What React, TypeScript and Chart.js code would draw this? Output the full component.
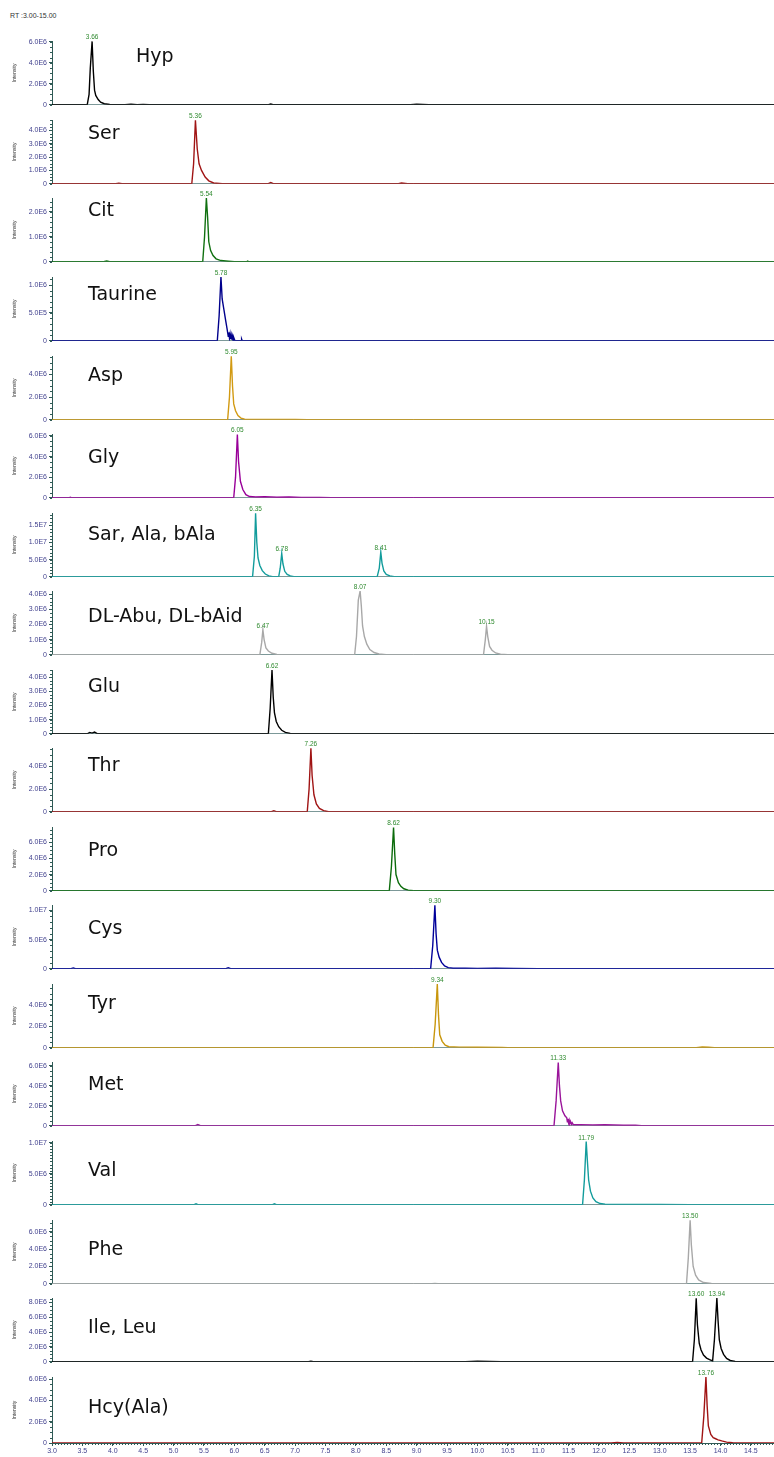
import React, { useEffect, useRef } from "react";
import { Chart, registerables } from "chart.js";

Chart.register(...registerables);

// ---------------- DATA ----------------
const rtRangeLabel = "RT :3.00-15.00";
const xMin = 3.0;
const xMax = 14.88;
const xTickValues = [3.0, 3.5, 4.0, 4.5, 5.0, 5.5, 6.0, 6.5, 7.0, 7.5, 8.0, 8.5, 9.0, 9.5, 10.0, 10.5, 11.0, 11.5, 12.0, 12.5, 13.0, 13.5, 14.0, 14.5];

const panelNames = ["Hyp", "Ser", "Cit", "Taurine", "Asp", "Gly", "Sar, Ala, bAla", "DL-Abu, DL-bAid", "Glu", "Thr", "Pro", "Cys", "Tyr", "Met", "Val", "Phe", "Ile, Leu", "Hcy(Ala)"];

const panelPeaks: number[][] = [[3.66], [5.36], [5.54], [5.78], [5.95], [6.05], [6.35, 6.78, 8.41], [6.47, 8.07, 10.15], [6.62], [7.26], [8.62], [9.30], [9.34], [11.33], [11.79], [13.50], [13.60, 13.94], [13.76]];

const panelYMax = [6.09e6, 4.77e6, 2.55e6, 1.144e6, 5.62e6, 6.19e6, 1.86e7, 4.2e6, 4.5e6, 5.62e6, 7.86e6, 1.095e7, 5.91e6, 6.4e6, 1.03e7, 7.37e6, 8.6e6, 6.2e6];

const panelYTicks: number[][] = [
  [0, 2e6, 4e6, 6e6],
  [0, 1e6, 2e6, 3e6, 4e6],
  [0, 1e6, 2e6],
  [0, 5e5, 1e6],
  [0, 2e6, 4e6],
  [0, 2e6, 4e6, 6e6],
  [0, 5e6, 1e7, 1.5e7],
  [0, 1e6, 2e6, 3e6, 4e6],
  [0, 1e6, 2e6, 3e6, 4e6],
  [0, 2e6, 4e6],
  [0, 2e6, 4e6, 6e6],
  [0, 5e6, 1e7],
  [0, 2e6, 4e6],
  [0, 2e6, 4e6, 6e6],
  [0, 5e6, 1e7],
  [0, 2e6, 4e6, 6e6],
  [0, 2e6, 4e6, 6e6, 8e6],
  [0, 2e6, 4e6, 6e6],
];

type P = [number, number];

const hypTrace: P[] = [[3.0, 0], [3.58, 0.01e6], [3.61, 1.0e6], [3.63, 3.5e6], [3.66, 6.05e6], [3.68, 3.2e6], [3.70, 1.4e6], [3.72, 0.9e6], [3.76, 0.5e6], [3.80, 0.25e6], [3.86, 0.1e6], [3.95, 0.03e6], [4.2, 0.02e6], [4.3, 0.05e6], [4.4, 0.01e6], [4.5, 0.04e6], [4.6, 0], [6.55, 0], [6.6, 0.08e6], [6.65, 0], [8.9, 0], [9.0, 0.06e6], [9.1, 0.03e6], [9.2, 0], [14.88, 0]];
const serTrace: P[] = [[3.0, 0], [4.05, 0], [4.1, 0.05e6], [4.15, 0], [5.30, 0], [5.33, 1.5e6], [5.36, 4.75e6], [5.39, 2.6e6], [5.42, 1.5e6], [5.46, 1.0e6], [5.52, 0.5e6], [5.58, 0.22e6], [5.66, 0.06e6], [5.8, 0], [6.55, 0], [6.6, 0.1e6], [6.65, 0], [8.7, 0], [8.75, 0.06e6], [8.85, 0], [14.88, 0]];
const citTrace: P[] = [[3.0, 0], [3.85, 0], [3.9, 0.03e6], [3.95, 0], [5.48, 0], [5.51, 1.0e6], [5.54, 2.55e6], [5.56, 1.8e6], [5.58, 0.8e6], [5.61, 0.45e6], [5.65, 0.25e6], [5.70, 0.12e6], [5.78, 0.05e6], [5.9, 0.02e6], [6.0, 0], [6.2, 0], [6.22, 0.03e6], [6.24, 0], [14.88, 0]];
const taurineTrace: P[] = [[3.0, 0], [5.72, 0], [5.75, 0.45e6], [5.78, 1.144e6], [5.80, 0.75e6], [5.83, 0.55e6], [5.86, 0.35e6], [5.88, 0.22e6], [5.90, 0.08e6], [5.91, 0.15e6], [5.92, 0.05e6], [5.93, 0.12e6], [5.94, 0.03e6], [5.95, 0.1e6], [5.96, 0.02e6], [5.97, 0.08e6], [5.98, 0], [5.99, 0.06e6], [6.01, 0], [6.11, 0], [6.12, 0.03e6], [6.13, 0], [14.88, 0]];
const aspTrace: P[] = [[3.0, 0], [5.89, 0], [5.92, 2.0e6], [5.95, 5.6e6], [5.97, 3.0e6], [5.99, 1.4e6], [6.02, 0.8e6], [6.06, 0.37e6], [6.11, 0.15e6], [6.17, 0.05e6], [6.3, 0.03e6], [6.5, 0.04e6], [6.7, 0.02e6], [7.0, 0.03e6], [7.2, 0], [14.88, 0]];
const glyTrace: P[] = [[3.0, 0], [3.28, 0], [3.3, 0.05e6], [3.33, 0], [5.99, 0], [6.02, 2.0e6], [6.05, 6.15e6], [6.07, 3.5e6], [6.10, 1.6e6], [6.14, 0.8e6], [6.19, 0.3e6], [6.25, 0.12e6], [6.35, 0.08e6], [6.5, 0.1e6], [6.7, 0.06e6], [6.9, 0.08e6], [7.1, 0.04e6], [7.4, 0.03e6], [7.6, 0], [14.88, 0]];
const sarTrace: P[] = [[3.0, 0], [6.30, 0], [6.33, 6.0e6], [6.35, 1.85e7], [6.37, 1.0e7], [6.39, 5.5e6], [6.42, 3.3e6], [6.46, 1.8e6], [6.51, 0.8e6], [6.57, 0.25e6], [6.63, 0.05e6], [6.73, 0], [6.755, 2.5e6], [6.78, 6.8e6], [6.80, 3.8e6], [6.83, 1.6e6], [6.87, 0.7e6], [6.92, 0.25e6], [6.98, 0.05e6], [7.05, 0], [8.35, 0], [8.385, 2.5e6], [8.41, 7.2e6], [8.43, 4.0e6], [8.46, 1.7e6], [8.50, 0.7e6], [8.56, 0.25e6], [8.63, 0.05e6], [8.7, 0], [14.88, 0]];
const abuTrace: P[] = [[3.0, 0], [6.42, 0], [6.45, 0.8e6], [6.47, 1.65e6], [6.49, 1.0e6], [6.52, 0.45e6], [6.56, 0.25e6], [6.62, 0.1e6], [6.7, 0.03e6], [6.8, 0], [7.98, 0], [8.01, 1.2e6], [8.04, 3.6e6], [8.07, 4.2e6], [8.09, 3.2e6], [8.11, 1.9e6], [8.14, 1.2e6], [8.18, 0.7e6], [8.23, 0.35e6], [8.30, 0.15e6], [8.38, 0.05e6], [8.5, 0], [10.10, 0], [10.13, 1.0e6], [10.15, 1.87e6], [10.17, 1.2e6], [10.20, 0.55e6], [10.24, 0.3e6], [10.30, 0.12e6], [10.38, 0.04e6], [10.5, 0], [14.88, 0]];
const gluTrace: P[] = [[3.0, 0], [3.58, 0], [3.62, 0.1e6], [3.66, 0.05e6], [3.70, 0.12e6], [3.75, 0], [6.56, 0], [6.59, 1.8e6], [6.62, 4.5e6], [6.64, 2.6e6], [6.66, 1.5e6], [6.69, 0.87e6], [6.73, 0.5e6], [6.78, 0.25e6], [6.84, 0.1e6], [6.92, 0.03e6], [7.0, 0], [14.88, 0]];
const thrTrace: P[] = [[3.0, 0], [6.6, 0], [6.65, 0.1e6], [6.7, 0], [7.20, 0], [7.23, 2.0e6], [7.26, 5.6e6], [7.28, 3.2e6], [7.31, 1.5e6], [7.35, 0.7e6], [7.40, 0.3e6], [7.47, 0.1e6], [7.55, 0], [14.88, 0]];
const proTrace: P[] = [[3.0, 0], [8.55, 0], [8.585, 3.0e6], [8.62, 7.8e6], [8.64, 4.5e6], [8.66, 2.0e6], [8.70, 1.0e6], [8.74, 0.55e6], [8.79, 0.25e6], [8.86, 0.08e6], [8.95, 0.02e6], [9.1, 0], [14.88, 0]];
const cysTrace: P[] = [[3.0, 0], [3.30, 0], [3.35, 0.15e6], [3.40, 0], [5.85, 0], [5.9, 0.2e6], [5.95, 0], [9.23, 0], [9.265, 4.0e6], [9.30, 1.09e7], [9.32, 6.0e6], [9.34, 3.2e6], [9.37, 2.0e6], [9.41, 1.1e6], [9.46, 0.5e6], [9.52, 0.2e6], [9.6, 0.1e6], [9.8, 0.12e6], [10.0, 0.08e6], [10.3, 0.1e6], [10.6, 0.05e6], [11.0, 0.03e6], [11.2, 0], [14.88, 0]];
const tyrTrace: P[] = [[3.0, 0], [9.27, 0], [9.305, 2.2e6], [9.34, 5.9e6], [9.36, 3.0e6], [9.38, 1.2e6], [9.42, 0.6e6], [9.47, 0.25e6], [9.53, 0.1e6], [9.7, 0.06e6], [10.0, 0.05e6], [10.4, 0.04e6], [10.5, 0], [13.6, 0], [13.7, 0.08e6], [13.8, 0.05e6], [13.9, 0], [14.88, 0]];
const metTrace: P[] = [[3.0, 0], [5.35, 0], [5.40, 0.12e6], [5.45, 0], [11.26, 0], [11.295, 2.5e6], [11.33, 6.35e6], [11.35, 4.0e6], [11.37, 2.5e6], [11.40, 1.5e6], [11.44, 1.0e6], [11.47, 0.8e6], [11.48, 0.4e6], [11.49, 0.7e6], [11.50, 0.3e6], [11.51, 0.55e6], [11.52, 0.2e6], [11.53, 0.45e6], [11.55, 0.15e6], [11.56, 0.3e6], [11.58, 0.1e6], [11.7, 0.12e6], [11.9, 0.08e6], [12.1, 0.1e6], [12.4, 0.06e6], [12.6, 0.05e6], [12.7, 0], [14.88, 0]];
const valTrace: P[] = [[3.0, 0], [5.33, 0], [5.37, 0.15e6], [5.41, 0], [6.62, 0], [6.66, 0.15e6], [6.70, 0], [11.73, 0], [11.76, 4.0e6], [11.79, 1.02e7], [11.81, 7.0e6], [11.83, 4.0e6], [11.86, 2.2e6], [11.90, 1.1e6], [11.95, 0.5e6], [12.02, 0.2e6], [12.1, 0.08e6], [12.5, 0.05e6], [13.0, 0.04e6], [13.5, 0.03e6], [14.0, 0.02e6], [14.4, 0], [14.88, 0]];
const pheTrace: P[] = [[3.0, 0], [9.25, 0], [9.3, 0.05e6], [9.35, 0], [13.44, 0], [13.47, 3.0e6], [13.50, 7.35e6], [13.52, 4.5e6], [13.55, 2.0e6], [13.59, 1.0e6], [13.64, 0.45e6], [13.72, 0.15e6], [13.85, 0.05e6], [14.0, 0.02e6], [14.2, 0], [14.88, 0]];
const ileTrace: P[] = [[3.0, 0], [7.22, 0], [7.26, 0.08e6], [7.3, 0], [9.8, 0], [10.0, 0.07e6], [10.2, 0.05e6], [10.4, 0], [13.54, 0], [13.57, 3.0e6], [13.60, 8.55e6], [13.62, 5.0e6], [13.65, 2.5e6], [13.68, 1.6e6], [13.72, 0.9e6], [13.77, 0.5e6], [13.82, 0.3e6], [13.87, 0.12e6], [13.90, 3.0e6], [13.94, 8.6e6], [13.96, 5.5e6], [13.98, 3.0e6], [14.01, 1.8e6], [14.05, 1.0e6], [14.10, 0.45e6], [14.16, 0.18e6], [14.24, 0.05e6], [14.35, 0], [14.88, 0]];
const hcyTrace: P[] = [[3.0, 0], [12.2, 0], [12.3, 0.04e6], [12.4, 0], [13.69, 0], [13.725, 2.5e6], [13.76, 6.2e6], [13.78, 3.5e6], [13.80, 1.6e6], [13.84, 0.8e6], [13.88, 0.5e6], [13.92, 0.4e6], [13.96, 0.3e6], [14.02, 0.2e6], [14.10, 0.08e6], [14.2, 0.02e6], [14.3, 0], [14.88, 0]];

const panelTraces: P[][] = [hypTrace, serTrace, citTrace, taurineTrace, aspTrace, glyTrace, sarTrace, abuTrace, gluTrace, thrTrace, proTrace, cysTrace, tyrTrace, metTrace, valTrace, pheTrace, ileTrace, hcyTrace];

// ---------------- STYLE / LAYOUT ----------------
const DARK_RED = "#a01414";
const panelColors = ["#000000", DARK_RED, "#107010", "#00008c", "#d29a12", "#990099", "#129c9c", "#a8a8a8", "#000000", DARK_RED, "#0b6b0b", "#00009a", "#c8960c", "#9a149a", "#129c9c", "#a8a8a8", "#000000", DARK_RED];
const panelMinorStep = [5e5, 2.5e5, 2e5, 1e5, 5e5, 5e5, 1e6, 2.5e5, 2.5e5, 5e5, 5e5, 1e6, 5e5, 5e5, 5e5, 5e5, 5e5, 5e5];
const labelX = [136, 88, 88, 88, 88, 88, 88, 88, 88, 88, 88, 88, 88, 88, 88, 88, 88, 88];
const labelDy = [48, 50, 51, 46, 44, 40, 42, 38, 47, 46, 40, 40, 44, 41, 34, 34, 34, 35];

const FIRST_BASELINE = 107.3;
const PANEL_PITCH = 78.55;
const AXIS_COLOR = "#2f5a55";
const XLINE_COLOR = "#7c9898";
const TICK_COLOR = "#3e3e8c";
const PEAK_COLOR = "#2f8a2f";
const SANS = 'Arial, "Liberation Sans", sans-serif';
const CHART_W = 774;
const TOP_PAD = 10;
const AXIS_H = 66;

function fmtY(v: number): string {
  if (v === 0) return "0";
  return v.toExponential(1).toUpperCase().replace("+", "");
}

function Panel({ index }: { index: number }) {
  const ref = useRef<HTMLCanvasElement | null>(null);
  const isLast = index === panelNames.length - 1;
  const xAxisH = isLast ? 14 : 4;
  const height = TOP_PAD + AXIS_H + xAxisH;
  const baseline = FIRST_BASELINE + PANEL_PITCH * index;
  const top = Math.round(baseline - TOP_PAD - AXIS_H);

  useEffect(() => {
    if (!ref.current) return;
    const trace = panelTraces[index];
    const ymax = panelYMax[index];
    const minor = panelMinorStep[index];

    const decor = {
      id: "decor" + index,
      afterDraw(chart: any) {
        const ctx = chart.ctx as CanvasRenderingContext2D;
        const xs = chart.scales.x;
        const ys = chart.scales.y;
        const ca = chart.chartArea;
        ctx.save();
        ctx.strokeStyle = AXIS_COLOR;
        ctx.lineWidth = 1;
        ctx.beginPath();
        const nMinor = Math.floor(ymax / minor + 1e-6);
        for (let k = 0; k <= nMinor; k++) {
          const y = Math.round(ys.getPixelForValue(k * minor)) + 0.5;
          ctx.moveTo(ca.left - 2, y);
          ctx.lineTo(ca.left, y);
        }
        ctx.stroke();
        if (isLast) {
          ctx.beginPath();
          const n = Math.floor((xMax - xMin) / 0.05 + 1e-6);
          for (let k = 0; k <= n; k++) {
            const x = Math.round(xs.getPixelForValue(xMin + k * 0.05)) + 0.5;
            ctx.moveTo(x, ca.bottom);
            ctx.lineTo(x, ca.bottom + 2);
          }
          ctx.stroke();
        }
        ctx.fillStyle = PEAK_COLOR;
        ctx.font = "6.5px " + SANS;
        ctx.textAlign = "center";
        ctx.textBaseline = "alphabetic";
        for (const rt of panelPeaks[index]) {
          const pt = trace.find((p) => Math.abs(p[0] - rt) < 1e-9);
          const yv = pt ? pt[1] : ymax;
          ctx.fillText(rt.toFixed(2), xs.getPixelForValue(rt), ys.getPixelForValue(yv) - 2);
        }
        ctx.fillStyle = "#111111";
        ctx.font = '19px "DejaVu Sans", Verdana, sans-serif';
        ctx.textAlign = "left";
        ctx.textBaseline = "middle";
        ctx.fillText(panelNames[index], labelX[index], ca.bottom - labelDy[index]);
        ctx.restore();
      },
    };

    const chart = new Chart(ref.current, {
      type: "line",
      data: {
        datasets: [
          {
            data: trace.map(([x, y]) => ({ x, y })),
            borderColor: panelColors[index],
            borderWidth: 1.4,
            pointRadius: 0,
            tension: 0,
            fill: false,
          },
        ],
      },
      options: {
        animation: false,
        responsive: false,
        events: [],
        layout: { padding: { top: TOP_PAD, left: 0, right: 0, bottom: 0 } },
        plugins: { legend: { display: false }, tooltip: { enabled: false } },
        scales: {
          x: {
            type: "linear",
            min: xMin,
            max: xMax,
            afterBuildTicks: (s: any) => {
              s.ticks = xTickValues.map((v) => ({ value: v }));
            },
            afterFit: (s: any) => {
              s.height = xAxisH;
            },
            grid: { display: isLast, drawOnChartArea: false, drawTicks: true, tickLength: 3, color: AXIS_COLOR },
            border: { display: true, color: isLast ? AXIS_COLOR : XLINE_COLOR, width: 1 },
            ticks: {
              display: isLast,
              autoSkip: false,
              maxRotation: 0,
              padding: 1,
              color: TICK_COLOR,
              font: { family: SANS, size: 7 },
              callback: (v: any) => Number(v).toFixed(1),
            },
          },
          y: {
            type: "linear",
            min: 0,
            max: ymax,
            afterBuildTicks: (s: any) => {
              s.ticks = panelYTicks[index].map((v) => ({ value: v }));
            },
            afterFit: (s: any) => {
              s.width = 52;
            },
            grid: { drawOnChartArea: false, drawTicks: true, tickLength: 3, color: AXIS_COLOR },
            border: { display: true, color: AXIS_COLOR, width: 1 },
            ticks: {
              autoSkip: false,
              padding: 2,
              color: TICK_COLOR,
              font: { family: SANS, size: 7 },
              callback: (v: any) => fmtY(Number(v)),
            },
            title: {
              display: true,
              text: "Intensity",
              color: "#333333",
              font: { family: SANS, size: 5 },
              padding: { top: 12, bottom: 0 },
            },
          },
        },
      },
      plugins: [decor],
    } as any);
    return () => chart.destroy();
  }, [index]);

  return (
    <canvas
      ref={ref}
      width={CHART_W}
      height={height}
      style={{ position: "absolute", left: 0, top, width: CHART_W, height, display: "block" }}
    />
  );
}

export default function App() {
  useEffect(() => {
    document.body.style.margin = "0";
    document.body.style.background = "#ffffff";
  }, []);
  return (
    <div style={{ position: "relative", width: 774, height: 1457, background: "#ffffff", overflow: "hidden" }}>
      <div
        style={{
          position: "absolute",
          left: 10,
          top: 12,
          font: "7px " + SANS,
          color: "#333333",
          whiteSpace: "nowrap",
        }}
      >
        {rtRangeLabel}
      </div>
      {panelNames.map((_, i) => (
        <Panel key={i} index={i} />
      ))}
    </div>
  );
}
